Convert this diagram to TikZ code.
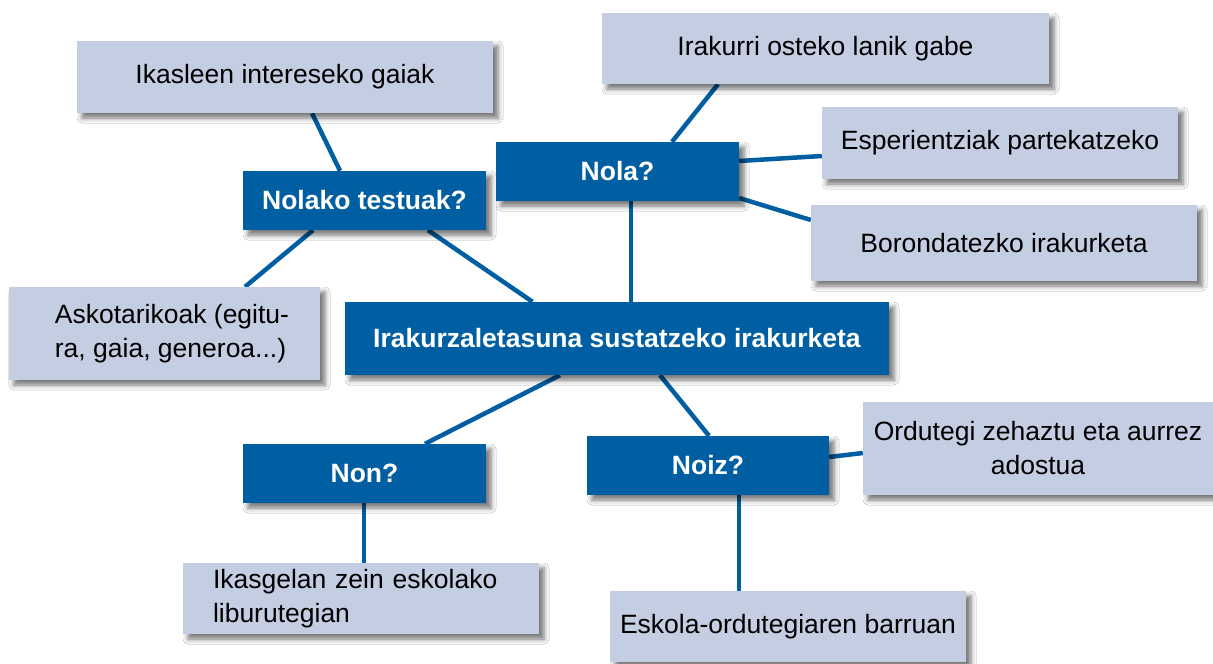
\documentclass[tikz,border=0pt]{standalone}
\usepackage{fontspec}
\setmainfont{Liberation Sans}
\usetikzlibrary{shadows.blur,calc,backgrounds}
\definecolor{dblue}{RGB}{0,94,162}
\definecolor{lblue}{RGB}{196,206,226}
\begin{document}
\begin{tikzpicture}[x=1pt,y=-1pt,
  boxwh/.style 2 args={minimum width=#1pt,minimum height=#2pt},
  base/.style={rectangle, inner sep=0pt,
    blur shadow={shadow xshift=5pt, shadow yshift=-5pt, shadow blur radius=5pt, shadow opacity=55}},
  qbox/.style={base, fill=dblue, text=white, font=\fontsize{26.5}{34}\selectfont\bfseries},
  abox/.style={base, fill=lblue, text=black, font=\fontsize{26.5}{34}\selectfont},
  conn/.style={draw=dblue, line width=4.5pt}]
\useasboundingbox (0,0) rectangle (1213,664);

\node[abox, boxwh={416}{72}] (ika) at (285,77) {Ikasleen intereseko gaiak};
\node[qbox, boxwh={243}{59}] (nolako) at (364.5,200.5) {Nolako testuak?};
\node[abox, boxwh={311}{93}, align=left] (asko) at (164.5,333.5)
  {\hspace*{15pt}Askotarikoak (egitu-\\\hspace*{15pt}ra, gaia, generoa...)};
\node[qbox, boxwh={544}{73}] (central) at (617,338.5) {Irakurzaletasuna sustatzeko irakurketa};
\node[qbox, boxwh={243}{59}] (nola) at (617.5,171.5) {Nola?};
\node[abox, boxwh={447}{71}] (irak) at (825.5,48.5) {Irakurri osteko lanik gabe};
\node[abox, boxwh={356}{72}] (esp) at (1000,143) {Esperientziak partekatzeko};
\node[abox, boxwh={386}{76}] (bor) at (1004,243) {Borondatezko irakurketa};
\node[qbox, boxwh={243}{59}] (non) at (364.5,473.5) {Non?};
\node[qbox, boxwh={242}{59}] (noiz) at (708,465.5) {Noiz?};
\node[abox, boxwh={350}{93}, align=center] (ord) at (1038,448.5) {Ordutegi zehaztu eta aurrez\\adostua};
\node[abox, boxwh={356}{71}] (esk) at (788,626.5) {Eskola-ordutegiaren barruan};
\node[abox, minimum height=71pt, text width=296pt, inner xsep=30pt, align=left] (ikasg) at (361,598.5)
  {Ikasgelan zein eskolako\\liburutegian};

\begin{scope}[on background layer]
\fill[white] (0,0) rectangle (1213,664);
\draw[conn] ([xshift=27pt]ika.south) -- ([xshift=-24.5pt]nolako.north);
\draw[conn] ([xshift=-51.5pt]nolako.south) -- ([xshift=80.5pt]asko.north);
\draw[conn] ([xshift=63.5pt]nolako.south) -- ([xshift=-84.5pt]central.north);
\draw[conn] ([xshift=54.5pt]nola.north) -- ([xshift=-107.5pt]irak.south);
\draw[conn] ([yshift=10.5pt]nola.east) -- ([yshift=-13pt]esp.west);
\draw[conn] ([yshift=-26.5pt]nola.east) -- ([yshift=23pt]bor.west);
\draw[conn] ([xshift=13.5pt]nola.south) -- ([xshift=14pt]central.north);
\draw[conn] ([xshift=-57pt]central.south) -- ([xshift=60.5pt]non.north);
\draw[conn] ([xshift=43pt]central.south) -- ([xshift=1pt]noiz.north);
\draw[conn] ([yshift=8.5pt]noiz.east) -- ([yshift=-4.5pt]ord.west);
\draw[conn] ([xshift=31pt]noiz.south) -- ([xshift=-49pt]esk.north);
\draw[conn] ([xshift=-0.5pt]non.south) -- ([xshift=3pt]ikasg.north);
\end{scope}
\end{tikzpicture}
\end{document}
